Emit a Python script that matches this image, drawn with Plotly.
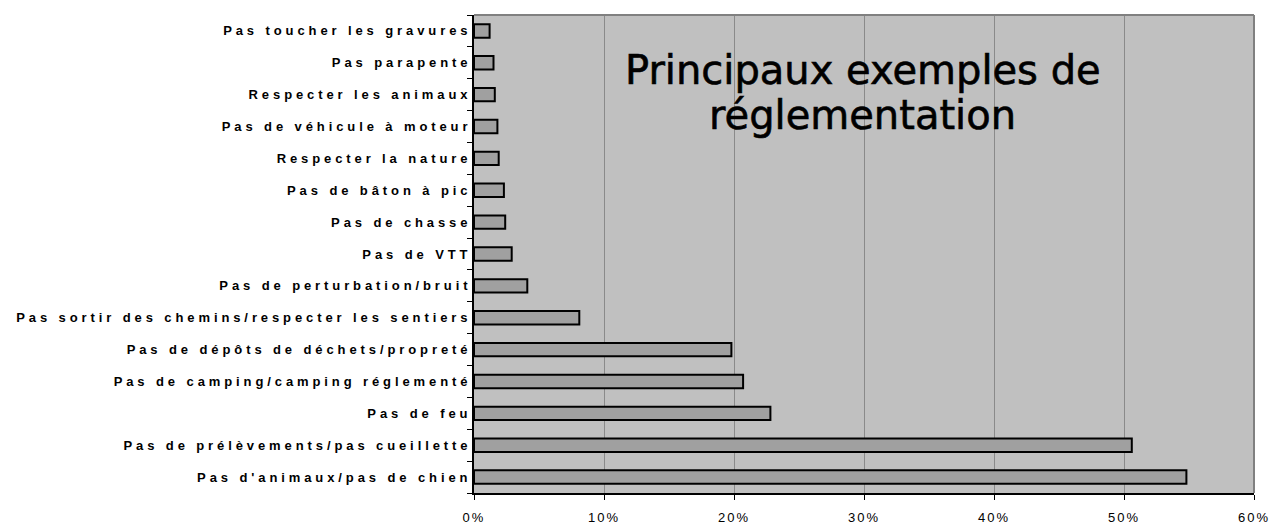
import plotly.graph_objects as go

# Categories listed bottom to top (plotly draws the first category at the bottom)
categories = [
    "Pas d'animaux/pas de chien",
    "Pas de prélèvements/pas cueillette",
    "Pas de feu",
    "Pas de camping/camping réglementé",
    "Pas de dépôts de déchets/propreté",
    "Pas sortir des chemins/respecter les sentiers",
    "Pas de perturbation/bruit",
    "Pas de VTT",
    "Pas de chasse",
    "Pas de bâton à pic",
    "Respecter la nature",
    "Pas de véhicule à moteur",
    "Respecter les animaux",
    "Pas parapente",
    "Pas toucher les gravures",
]
shares = [0.548, 0.506, 0.228, 0.207, 0.198, 0.081, 0.041, 0.029,
          0.024, 0.023, 0.019, 0.018, 0.016, 0.015, 0.012]

x_ticks = [0, 0.1, 0.2, 0.3, 0.4, 0.5, 0.6]
title_lines = ["Principaux exemples de", "réglementation"]

W, H = 1271, 524
L, R, T, B = 474, 17, 15, 31

fig = go.Figure(
    go.Bar(
        x=shares,
        y=categories,
        orientation="h",
        marker=dict(color="#a0a0a0", line=dict(color="black", width=2)),
        width=0.42,
        hoverinfo="x+y",
    )
)

fig.update_layout(
    width=W,
    height=H,
    margin=dict(l=L, r=R, t=T, b=B, pad=0),
    paper_bgcolor="white",
    plot_bgcolor="#c0c0c0",
    showlegend=False,
    font=dict(family="Liberation Sans, Arial, sans-serif", color="black"),
)

fig.update_xaxes(
    range=[0, 0.6],
    tickvals=x_ticks,
    tickformat=".0%",
    automargin=False,
    showgrid=True,
    gridcolor="#8a8a8a",
    gridwidth=1,
    zeroline=False,
    showline=True,
    linecolor="black",
    linewidth=2,
    ticks="outside",
    ticklen=5,
    tickwidth=1,
    tickcolor="black",
    tickfont=dict(size=13, color="black"),
    ticklabelstandoff=6,
)

fig.update_yaxes(
    type="category",
    categoryorder="array",
    categoryarray=categories,
    range=[-0.5, len(categories) - 0.5],
    automargin=False,
    tickson="boundaries",
    showgrid=False,
    zeroline=False,
    showline=True,
    linecolor="black",
    linewidth=2,
    ticks="outside",
    ticklen=5,
    tickwidth=1,
    tickcolor="black",
    tickfont=dict(size=13, color="black", weight="bold"),
    ticklabelstandoff=-2,
)

# Grey frame on the top and right edges of the plot area
fig.add_shape(type="line", xref="paper", yref="paper", x0=0, x1=1, y0=1, y1=1,
              line=dict(color="#808080", width=2))
fig.add_shape(type="line", xref="paper", yref="paper", x0=1, x1=1, y0=0, y1=1,
              line=dict(color="#808080", width=2))

# Title placed inside the plot area, two lines
title_y = [0.884, 0.791]
for line, yy in zip(title_lines, title_y):
    fig.add_annotation(
        text=line,
        x=0.299, y=yy,
        xref="x", yref="paper",
        xanchor="center", yanchor="middle",
        showarrow=False,
        font=dict(family="DejaVu Sans, sans-serif", size=40, color="black"),
    )

# Letter spacing on the tick labels and a slightly heavier title stroke
page_css = (
    ".ytick text{letter-spacing:3.9px}"
    ".xtick text{letter-spacing:2px}"
    ".annotation-text{stroke:black;stroke-width:0.6px}"
)
post_js = (
    "var s=document.createElement('style');"
    "s.textContent='" + page_css + "';"
    "document.head.appendChild(s);"
)

fig.write_html("out.html", post_script=post_js)
